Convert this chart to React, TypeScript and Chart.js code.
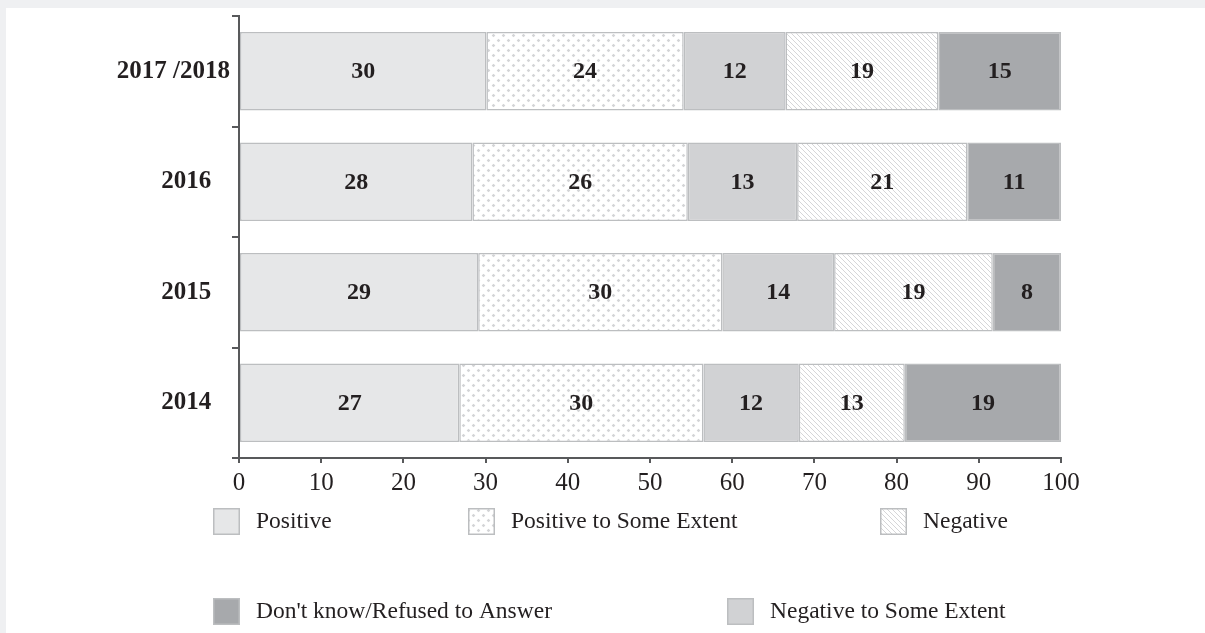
import React, { useEffect, useRef } from "react";
import { Chart, registerables } from "chart.js";

Chart.register(...registerables);

const categories = ["2017 /2018", "2016", "2015", "2014"];
const yTickLabels = ["2017 /2018", "2016   ", "2015   ", "2014   "];
const positive = [30.1, 28.4, 29.1, 26.8];
const positiveSome = [24.0, 26.2, 29.7, 29.7];
const negativeSome = [12.4, 13.3, 13.6, 11.6];
const negative = [18.6, 20.7, 19.3, 12.9];
const dontKnow = [14.9, 11.4, 8.3, 19.0];
const xTicks = [0, 10, 20, 30, 40, 50, 60, 70, 80, 90, 100];
const seriesNames = [
  "Positive",
  "Positive to Some Extent",
  "Negative to Some Extent",
  "Negative",
  "Don't know/Refused to Answer",
];

const FONT = "'Liberation Serif', 'Times New Roman', serif";
const TEXT = "#231f20";
const AXIS = "#58595b";
const EDGE = "#bcbec0";

function makeDots(): CanvasPattern | string {
  const c = document.createElement("canvas");
  c.width = 10;
  c.height = 10;
  const x = c.getContext("2d");
  if (!x) return "#f4f4f4";
  x.fillStyle = "#ffffff";
  x.fillRect(0, 0, 10, 10);
  x.fillStyle = "#d3d4d6";
  const d = (cx: number, cy: number) => {
    x.beginPath();
    x.moveTo(cx, cy - 1.8);
    x.lineTo(cx + 1.8, cy);
    x.lineTo(cx, cy + 1.8);
    x.lineTo(cx - 1.8, cy);
    x.closePath();
    x.fill();
  };
  d(2.5, 2.5);
  d(7.5, 7.5);
  return x.createPattern(c, "repeat") || "#f4f4f4";
}

function makeHatch(): CanvasPattern | string {
  const s = 5;
  const c = document.createElement("canvas");
  c.width = s;
  c.height = s;
  const x = c.getContext("2d");
  if (!x) return "#f4f4f4";
  x.fillStyle = "#ffffff";
  x.fillRect(0, 0, s, s);
  x.strokeStyle = "#cbccce";
  x.lineWidth = 0.8;
  x.beginPath();
  x.moveTo(-1, -1);
  x.lineTo(s + 1, s + 1);
  x.moveTo(-1, s - 1);
  x.lineTo(1, s + 1);
  x.moveTo(s - 1, -1);
  x.lineTo(s + 1, 1);
  x.stroke();
  return x.createPattern(c, "repeat") || "#f4f4f4";
}

export default function App() {
  const ref = useRef<HTMLCanvasElement | null>(null);

  useEffect(() => {
    document.documentElement.style.background = "#eff0f2";
    document.documentElement.style.overflow = "hidden";
    document.body.style.margin = "0";
    document.body.style.background = "#eff0f2";
    document.body.style.overflow = "hidden";
    const canvas = ref.current;
    if (!canvas) return;
    const dots = makeDots();
    const hatch = makeHatch();
    const fills: any[] = ["#e6e7e8", dots, "#d1d2d4", hatch, "#a7a9ac"];
    const values = [positive, positiveSome, negativeSome, negative, dontKnow];

    const legendItems = [
      { ds: 0, sx: 207, sy: 500 },
      { ds: 1, sx: 462, sy: 500 },
      { ds: 3, sx: 874, sy: 500 },
      { ds: 4, sx: 207, sy: 590 },
      { ds: 2, sx: 721, sy: 590 },
    ];

    const overlay = {
      id: "overlay",
      afterDatasetsDraw(chart: any) {
        const ctx = chart.ctx;
        ctx.save();
        ctx.font = `bold 24px ${FONT}`;
        ctx.fillStyle = TEXT;
        ctx.textAlign = "center";
        ctx.textBaseline = "middle";
        chart.data.datasets.forEach((ds: any, di: number) => {
          const meta = chart.getDatasetMeta(di);
          meta.data.forEach((bar: any, i: number) => {
            const v = ds.data[i];
            const cx = (bar.x + bar.base) / 2;
            ctx.fillText(String(Math.round(v)), cx, bar.y + 1);
          });
        });
        ctx.restore();
      },
      afterDraw(chart: any) {
        const ctx = chart.ctx;
        ctx.save();
        legendItems.forEach((it) => {
          ctx.fillStyle = fills[it.ds];
          ctx.fillRect(it.sx, it.sy, 27, 27);
          ctx.strokeStyle = EDGE;
          ctx.lineWidth = 1.5;
          ctx.strokeRect(it.sx + 0.75, it.sy + 0.75, 25.5, 25.5);
          ctx.fillStyle = TEXT;
          ctx.font = `23.5px ${FONT}`;
          ctx.textAlign = "left";
          ctx.textBaseline = "middle";
          ctx.fillText(seriesNames[it.ds], it.sx + 43, it.sy + 14);
        });
        ctx.restore();
      },
    };

    const chart = new Chart(canvas, {
      type: "bar",
      data: {
        labels: categories,
        datasets: values.map((arr, i) => ({
          label: seriesNames[i],
          data: arr,
          backgroundColor: fills[i],
          borderColor: EDGE,
          borderWidth: 1.5,
          borderSkipped: false,
          categoryPercentage: 1,
          barPercentage: 0.71,
        })),
      },
      options: {
        indexAxis: "y",
        responsive: false,
        animation: false,
        layout: { padding: { top: 8, right: 144, left: 0, bottom: 0 } },
        plugins: {
          legend: { display: false },
          tooltip: { enabled: false },
          title: { display: false },
        },
        scales: {
          x: {
            stacked: true,
            min: 0,
            max: 100,
            afterFit: (s: any) => {
              s.height = 175;
              s.paddingLeft = 0;
              s.paddingRight = 0;
            },
            afterBuildTicks: (s: any) => {
              s.ticks = xTicks.map((v) => ({ value: v }));
            },
            grid: {
              drawOnChartArea: false,
              drawTicks: true,
              tickLength: 5,
              color: AXIS,
              lineWidth: 2,
            },
            border: { display: true, color: AXIS, width: 2 },
            ticks: {
              font: { family: FONT, size: 25 },
              color: TEXT,
              padding: 5,
              maxRotation: 0,
            },
          },
          y: {
            stacked: true,
            offset: true,
            afterFit: (s: any) => {
              s.width = 233;
              s.paddingTop = 0;
              s.paddingBottom = 0;
            },
            grid: {
              offset: true,
              drawOnChartArea: false,
              drawTicks: true,
              tickLength: 7,
              color: AXIS,
              lineWidth: 2,
            },
            border: { display: true, color: AXIS, width: 2 },
            ticks: {
              font: { family: FONT, size: 25, weight: "bold" },
              color: TEXT,
              padding: 2,
              callback: (_v: any, i: number) => yTickLabels[i],
            },
          },
        },
      },
      plugins: [overlay],
    } as any);
    return () => chart.destroy();
  }, []);

  return (
    <div
      style={{
        position: "fixed",
        left: 6,
        top: 8,
        right: -20,
        bottom: -20,
        background: "#ffffff",
      }}
    >
      <canvas ref={ref} width={1199} height={625} style={{ display: "block" }} />
    </div>
  );
}
